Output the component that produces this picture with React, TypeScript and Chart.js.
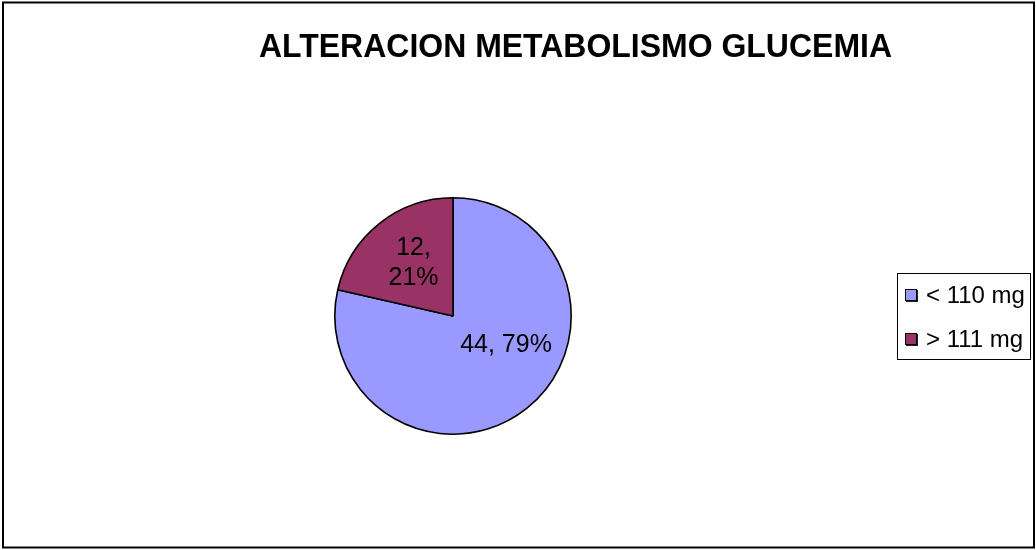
import React, { useEffect, useRef } from "react";
import { Chart, registerables } from "chart.js";

Chart.register(...registerables);

const TITLE = "ALTERACION METABOLISMO GLUCEMIA";
const categories = ["< 110 mg", "> 111 mg"];
const values = [44, 12];
const colors = ["#9999FF", "#993366"];
// label placement per slice: fraction of radius, angle offset (deg), wrap into lines
const labelPlacement = [
  { rf: 0.51, da: -23, wrap: false },
  { rf: 0.56, da: 2, wrap: true },
];

const FONT = "'Liberation Sans', Arial, sans-serif";

const decorPlugin = {
  id: "decor",
  beforeDraw(chart: any) {
    const ctx = chart.ctx;
    ctx.save();
    ctx.fillStyle = "#ffffff";
    ctx.fillRect(0, 0, chart.width, chart.height);
    // outer border
    ctx.strokeStyle = "#000000";
    ctx.lineWidth = 2;
    ctx.strokeRect(3, 2.5, 1031, 545);
    // title
    ctx.fillStyle = "#000000";
    ctx.font = `bold 34px ${FONT}`;
    ctx.textBaseline = "alphabetic";
    const w = ctx.measureText(TITLE).width;
    const target = 633;
    ctx.translate(259, 57);
    ctx.scale(target / w, 1);
    ctx.fillText(TITLE, 0, 0);
    ctx.restore();
  },
  afterDraw(chart: any) {
    const ctx = chart.ctx;
    const meta = chart.getDatasetMeta(0);
    const data = chart.data.datasets[0].data as number[];
    const total = data.reduce((a: number, b: number) => a + b, 0);
    ctx.save();
    ctx.fillStyle = "#000000";
    ctx.font = `25px ${FONT}`;
    ctx.textAlign = "center";
    ctx.textBaseline = "middle";
    meta.data.forEach((arc: any, i: number) => {
      const { x, y, startAngle, endAngle, outerRadius } = arc.getProps(
        ["x", "y", "startAngle", "endAngle", "outerRadius"],
        true
      );
      const p = labelPlacement[i];
      const mid = (startAngle + endAngle) / 2 + (p.da * Math.PI) / 180;
      const r = outerRadius * p.rf;
      const cx = x + Math.cos(mid) * r;
      const cy = y + Math.sin(mid) * r;
      const pct = Math.round((data[i] / total) * 100);
      const lines = p.wrap ? [`${data[i]},`, `${pct}%`] : [`${data[i]}, ${pct}%`];
      const lh = 30;
      lines.forEach((ln, k) => {
        ctx.fillText(ln, cx, cy + (k - (lines.length - 1) / 2) * lh);
      });
    });

    // legend
    const lx = 897, ly = 273, lw = 133, lhgt = 86;
    ctx.strokeStyle = "#000000";
    ctx.lineWidth = 1;
    ctx.strokeRect(lx + 0.5, ly + 0.5, lw, lhgt);
    ctx.textAlign = "left";
    ctx.font = `24px ${FONT}`;
    chart.data.labels.forEach((lab: string, i: number) => {
      const my = 289 + i * 44;
      ctx.fillStyle = "#222222";
      ctx.fillRect(906, my + 1, 12, 12);
      ctx.fillStyle = colors[i];
      ctx.fillRect(905, my, 11, 11);
      ctx.strokeStyle = "#000000";
      ctx.strokeRect(905.5, my + 0.5, 11, 11);
      ctx.fillStyle = "#000000";
      ctx.fillText(lab, 926, my + 7);
    });
    ctx.restore();
  },
};

export default function App() {
  const ref = useRef<HTMLCanvasElement | null>(null);
  useEffect(() => {
    if (!ref.current) return;
    const chart = new Chart(ref.current, {
      type: "pie",
      data: {
        labels: categories,
        datasets: [
          {
            data: values,
            backgroundColor: colors,
            borderColor: "#000000",
            borderWidth: 1.6,
          },
        ],
      },
      options: {
        responsive: false,
        animation: false,
        layout: { padding: { left: 334, right: 464, top: 197, bottom: 115 } },
        plugins: {
          legend: { display: false },
          title: { display: false },
          tooltip: { enabled: false },
        },
      },
      plugins: [decorPlugin],
    });
    return () => chart.destroy();
  }, []);
  return (
    <div style={{ position: "absolute", left: 0, top: 0, width: 1036, height: 550 }}>
      <canvas ref={ref} width={1036} height={550} />
    </div>
  );
}
